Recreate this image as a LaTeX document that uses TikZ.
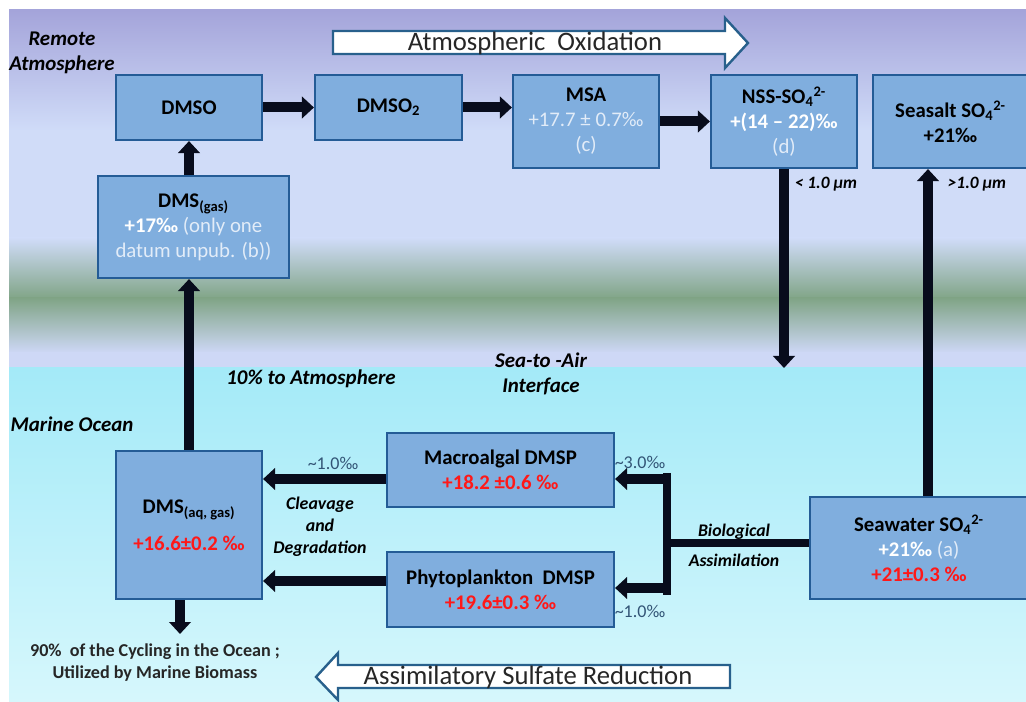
\documentclass[tikz,border=0pt]{standalone}
\usepackage{fontspec}
\setmainfont{Carlito}
\usetikzlibrary{arrows.meta}
\definecolor{bgtop}{RGB}{164,164,218}
\definecolor{bglight}{RGB}{208,220,248}
\definecolor{bggreen}{RGB}{128,164,134}
\definecolor{bglav}{RGB}{206,216,246}
\definecolor{bgcyan}{RGB}{164,234,248}
\definecolor{bgcyanl}{RGB}{214,247,252}
\definecolor{boxfill}{RGB}{128,174,222}
\definecolor{boxline}{RGB}{36,92,150}
\definecolor{arrowcol}{RGB}{8,12,28}
\definecolor{hollowline}{RGB}{40,96,140}
\definecolor{lighttext}{RGB}{226,236,248}
\definecolor{valred}{RGB}{255,24,24}
\definecolor{tildecol}{RGB}{50,84,118}
\begin{document}
\begin{tikzpicture}[x=0.75pt,y=-0.75pt,
  box/.style={draw=boxline, fill=boxfill, line width=1.6pt, inner sep=0pt, align=center,
    font=\bfseries\fontsize{15.6pt}{18.75pt}\selectfont},
  arr/.style={line width=7.5pt, draw=arrowcol, -{Triangle[length=9pt,width=16pt]}},
  bar/.style={line width=6.5pt, draw=arrowcol},
  hollow/.style={draw=hollowline, fill=white, line width=1.8pt, line join=miter},
  bigtext/.style={font=\fontsize{20pt}{24pt}\selectfont, text=black!85},
  region/.style={font=\bfseries\itshape\fontsize{15.7pt}{18.75pt}\selectfont, align=center},
  note/.style={font=\bfseries\itshape\fontsize{13.4pt}{16.5pt}\selectfont, align=center},
  small/.style={font=\bfseries\itshape\fontsize{13pt}{14pt}\selectfont},
  tilde/.style={font=\fontsize{13.5pt}{16pt}\selectfont, text=tildecol}]
\useasboundingbox (0,0) rectangle (1026,702);
\clip (0,0) rectangle (1026,702);
\fill[white] (0,0) rectangle (1026,702);
% background bands
\shade[top color=bgtop, bottom color=bglight] (9,10) rectangle (1026,131);
\fill[bglight] (9,130) rectangle (1026,239);
\shade[top color=bglight, bottom color=bggreen] (9,238) rectangle (1026,299);
\shade[top color=bggreen, bottom color=bglav] (9,298) rectangle (1026,353);
\fill[bglav] (9,352) rectangle (1026,369);
\shade[top color=bgcyan, bottom color=bgcyanl] (9,368) rectangle (1026,702);

% hollow process arrows
\draw[hollow] (333,31) -- (725,31) -- (725,18) -- (748,43) -- (725,68) -- (725,54) -- (333,54) -- cycle;
\node[bigtext] (ox) at (535,43) {Atmospheric\ \ Oxidation};
\draw[hollow] (730,665) -- (338,665) -- (338,653) -- (316,677) -- (338,700) -- (338,688) -- (730,688) -- cycle;
\node[bigtext] (red) at (528,677) {Assimilatory Sulfate Reduction};

% boxes
\node[box, minimum width=109.5pt, minimum height=48.75pt] (dmso) at (189,107.5) {DMSO};
\node[box, minimum width=110.25pt, minimum height=48.75pt] (dmso2) at (388.5,107.5) {DMSO\textsubscript{2}};
\node[box, minimum width=109.5pt, minimum height=69.75pt] (msa) at (586,121.5)
  {MSA\\{\mdseries\color{lighttext}+17.7 ± 0.7‰}\\{\mdseries\color{lighttext}(c)}};
\node[box, minimum width=109.5pt, minimum height=69.75pt] (nss) at (784,121.5)
  {NSS-SO\textsubscript{4}\textsuperscript{2-}\\{\color{white}+(14 – 22)‰}\\{\mdseries\color{lighttext}(d)}};
\node[box, minimum width=116.25pt, minimum height=69.75pt] (seasalt) at (950.5,121.5)
  {Seasalt SO\textsubscript{4}\textsuperscript{2-}\\+21‰};
\node[box, minimum width=143.25pt, minimum height=76.5pt] (dmsgas) at (193.5,227)
  {DMS\textsubscript{(gas)}\\{\color{white}+17‰}{\mdseries\color{lighttext}\ (only one}\\{\mdseries\color{lighttext}datum unpub. (b))}};
\node[box, minimum width=109.5pt, minimum height=111pt] (dmsaq) at (189,525)
  {DMS\textsubscript{(aq, gas)}\\[9pt]{\color{valred}+16.6±0.2 ‰}};
\node[box, minimum width=170.25pt, minimum height=55.5pt] (macro) at (500.5,470)
  {Macroalgal DMSP\\{\color{valred}+18.2 ±0.6 ‰}};
\node[box, minimum width=170.25pt, minimum height=56.25pt] (phyto) at (500.5,589.5)
  {Phytoplankton\ \ DMSP\\{\color{valred}+19.6±0.3 ‰}};
\node[box, minimum width=163.5pt, minimum height=76.5pt] (seawater) at (919,548)
  {Seawater SO\textsubscript{4}\textsuperscript{2-}\\{\color{white}+21‰}{\mdseries\color{lighttext}\ (a)}\\{\color{valred}+21±0.3 ‰}};

% atmospheric arrows
\draw[arr] (dmso.east) -- (dmso2.west);
\draw[arr] (dmso2.east) -- (msa.west |- dmso2.east);
\draw[arr] (msa.east) -- (nss.west);
\draw[arr] (dmsgas.north -| dmso.south) -- (dmso.south);
\draw[arr] (dmsaq.north) -- (dmsaq.north |- dmsgas.south);
\coordinate (nssend) at (784,368);
\draw[arr] (nss.south) -- (nssend);
\coordinate (upx) at (928,0);
\draw[arr] (upx |- seawater.north) -- (upx |- seasalt.south);

% ocean arrows
\coordinate (jn) at (667,543);
\coordinate (bartop) at (667,473);
\coordinate (barbot) at (667,595);
\coordinate (macroin) at (667,479);
\coordinate (phytoin) at (667,588);
\draw[bar] (seawater.west |- jn) -- (jn);
\draw[bar] (bartop) -- (barbot);
\draw[arr] (macroin) -- (macro.east |- macroin);
\draw[arr] (phytoin) -- (phyto.east |- phytoin);
\coordinate (ma) at (0,479);
\coordinate (pa) at (0,581);
\draw[arr] (macro.west |- ma) -- (dmsaq.east |- ma);
\draw[arr] (phyto.west |- pa) -- (dmsaq.east |- pa);
\coordinate (bio) at (180,634);
\draw[arr] (bio |- dmsaq.south) -- (bio);

% labels
\node[region] (remote) at (62,53) {Remote\\Atmosphere};
\node[region] (marine) at (72,424) {Marine Ocean};
\node[region] (ten) at (311,379) {10\% to Atmosphere};
\node[region] (sta) at (541,374) {Sea-to -Air\\Interface};
\node[small] (lt1) at (826,184) {< 1.0 µm};
\node[small] (gt1) at (977,184) {>1.0 µm};
\node[tilde] (t1) at (333,463) {\textasciitilde1.0‰};
\node[note] (cleave) at (320,527) {Cleavage\\and\\Degradation};
\node[tilde] (t3) at (640,462) {\textasciitilde3.0‰};
\node[tilde] (t1b) at (640,611) {\textasciitilde1.0‰};
\node[note, font=\bfseries\itshape\fontsize{13.3pt}{22.5pt}\selectfont] (bioass) at (734,545) {Biological\\Assimilation};
\node[align=center, font=\bfseries\fontsize{13.6pt}{16.5pt}\selectfont, text=black!85] (cyc) at (155,663)
  {90\%\ \ of the Cycling in the Ocean ;\\Utilized by Marine Biomass};
\end{tikzpicture}
\end{document}
